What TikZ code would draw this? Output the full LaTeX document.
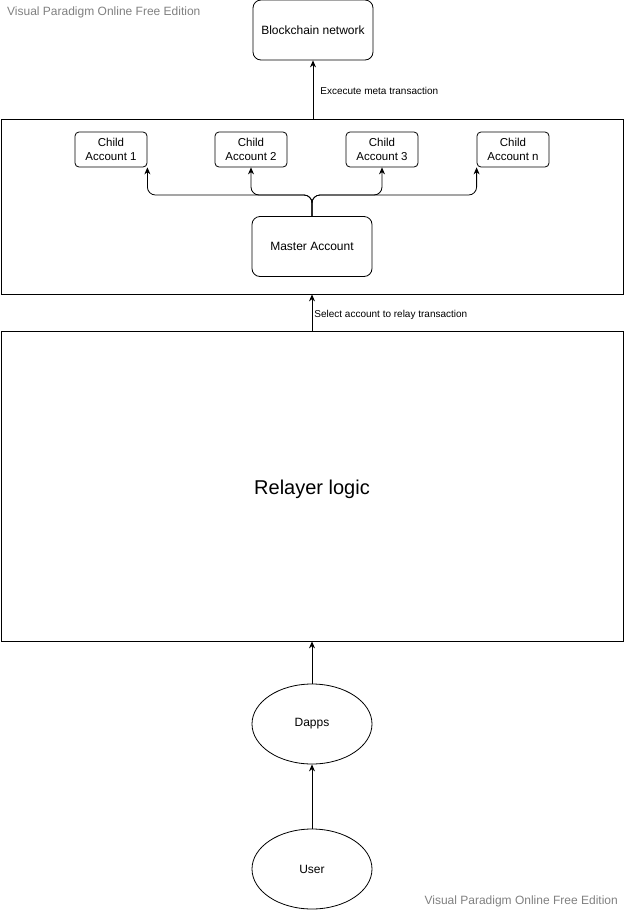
\documentclass[tikz,border=0pt]{standalone}
\usepackage{fontspec}
\setmainfont{Liberation Sans}
\usetikzlibrary{arrows.meta,shapes.geometric}
\definecolor{markgray}{RGB}{128,128,128}

\begin{document}
\begin{tikzpicture}[x=1pt,y=-1pt,
    roundbox/.style={draw, rounded corners=8pt, thick, font=\fontsize{12}{14}\selectfont, align=center, inner sep=0pt},
    childbox/.style={draw, rounded corners=4pt, thick, font=\fontsize{11.5}{14}\selectfont, align=center, inner sep=0pt, minimum width=72pt, minimum height=35pt},
    areabox/.style={draw, thick, inner sep=0pt},
    oval/.style={draw, ellipse, thick, minimum width=120pt, minimum height=80pt, font=\fontsize{12}{14}\selectfont},
    conn/.style={thick, -{Stealth[length=7pt,width=6pt]}},
    lbl/.style={font=\fontsize{10}{12}\selectfont, anchor=west, inner sep=0pt},
    watermark/.style={font=\fontsize{12}{14}\selectfont, text=markgray, inner sep=0pt}]
    \useasboundingbox (0,0) rectangle (624,911);

    \node[watermark, anchor=west] (wmtop) at (7,12) {Visual Paradigm Online Free Edition};
    \node[watermark, anchor=east] (wmbot) at (618,901) {Visual Paradigm Online Free Edition};

    \node[roundbox, minimum width=120pt, minimum height=60pt] (chain) at (313,30) {Blockchain network};

    \node[areabox, minimum width=622pt, minimum height=175pt] (accounts) at (312,206.5) {};
    \node[childbox] (c1) at (111,149.5) {Child\\Account 1};
    \node[childbox] (c2) at (251,149.5) {Child\\Account 2};
    \node[childbox] (c3) at (382,149.5) {Child\\Account 3};
    \node[childbox] (cn) at (513,149.5) {Child\\Account n};
    \node[roundbox, minimum width=120pt, minimum height=60pt] (master) at (312,246.5) {Master Account};
    \coordinate (bus) at (312,195);

    \node[areabox, minimum width=622pt, minimum height=310pt] (relayer) at (312,486) {};
    \node[font=\fontsize{20}{24}\selectfont] (relayertext) at (312,489) {Relayer logic};

    \node[oval] (dapps) at (312,724) {Dapps};
    \node[oval] (user) at (312,869) {User};

    \draw[conn] (accounts.north -| chain) -- node[lbl, xshift=7pt, yshift=-1pt] {Excecute meta transaction} (chain.south);
    \draw[conn, rounded corners=8pt] (master.north) -- (bus) -| (c1.south east);
    \draw[conn, rounded corners=8pt] (master.north) -- (bus) -| (c2.south);
    \draw[conn, rounded corners=8pt] (master.north) -- (bus) -| (c3.south);
    \draw[conn, rounded corners=8pt] (master.north) -- (bus) -| (cn.south west);
    \draw[conn] (relayer.north -| master) -- node[lbl, xshift=2pt, yshift=-2pt] {Select account to relay transaction} (accounts.south -| master);
    \draw[conn] (dapps.north) -- (relayer.south -| dapps);
    \draw[conn] (user.north) -- (dapps.south);
\end{tikzpicture}
\end{document}
